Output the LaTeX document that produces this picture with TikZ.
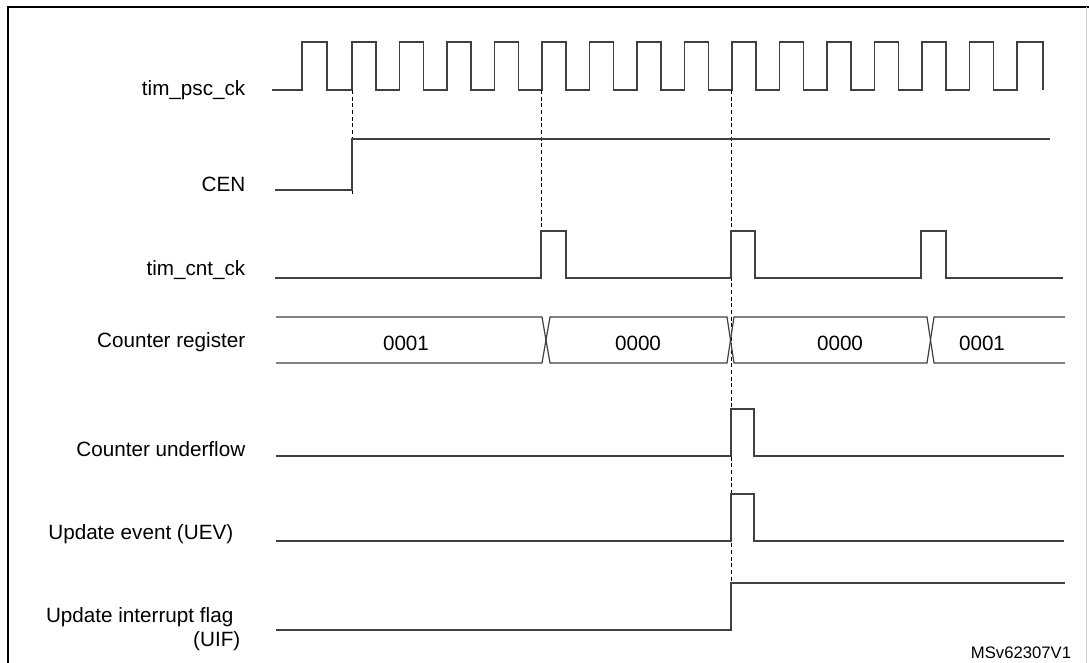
\documentclass[tikz,border=0pt]{standalone}
\usepackage{fontspec}
\setmainfont{Liberation Sans}
\begin{document}
\begin{tikzpicture}[x=0.75pt,y=-0.75pt,
  wave/.style={draw=black!75,line width=0.9pt},
  guide/.style={draw=black,line width=0.5pt,dash pattern=on 3pt off 2pt},
  lbl/.style={anchor=east,font=\fontsize{15.5}{18}\selectfont,align=right},
  val/.style={font=\fontsize{15.5}{18}\selectfont}]
\useasboundingbox (0,0) rectangle (1089,663);
\fill[white] (0,0) rectangle (1089,663);
\draw[line width=1.3pt] (8,663) -- (8,7) -- (1089,7);
\draw[black!20,line width=0.5pt] (1086,7) -- (1086,663);
% labels
\node[lbl] (l1) at (250,90) {tim\_psc\_ck};
\node[lbl] (l2) at (250,184) {CEN};
\node[lbl] (l3) at (250,270) {tim\_cnt\_ck};
\node[lbl] (l4) at (250,342) {Counter register};
\node[lbl] (l5) at (250,449) {Counter underflow};
\node[lbl] (l6) at (238,534) {Update event (UEV)};
\node[lbl] (l7) at (238,617) {Update interrupt flag};
\node[lbl] (l7b) at (245,641) {(UIF)};
\node[val,font=\fontsize{12.5}{14}\selectfont] (id) at (1021,653) {MSv62307V1};
% clock
\draw[wave] (272,90) -- (302,90) -- (302,42) -- (327,42) -- (327,90) -- (352,90)
 \foreach \k in {0,...,13} { -- ({352+47.5*\k},42) -- ({376+47.5*\k},42) -- ({376+47.5*\k},90) -- ({352+47.5*(\k+1)},90) }
 -- (1017,42) -- (1043,42) -- (1043,90);
% guides
\draw[guide] (352,90) -- (352,195);
\draw[guide] (541,90) -- (541,278);
\draw[guide] (731,90) -- (731,630);
% CEN
\draw[wave] (275,190) -- (352,190) -- (352,139) -- (1050,139);
% tim_cnt_ck
\draw[wave] (275,278) -- (541,278) -- (541,231) -- (566,231) -- (566,278) -- (731,278) -- (731,231) -- (755,231) -- (755,278) -- (921,278) -- (921,231) -- (946,231) -- (946,278) -- (1063,278);
% counter register
\draw[wave] (276,317) -- (542,317) -- (550,363) -- (727,363) -- (734,317) -- (927,317) -- (934,363) -- (1065,363);
\draw[wave] (276,363) -- (542,363) -- (550,317) -- (727,317) -- (734,363) -- (927,363) -- (934,317) -- (1065,317);
\node[val] (v1) at (406,343) {0001};
\node[val] (v2) at (638,343) {0000};
\node[val] (v3) at (840,343) {0000};
\node[val] (v4) at (982,343) {0001};
% counter underflow
\draw[wave] (276,456) -- (731,456) -- (731,409) -- (754,409) -- (754,456) -- (1064,456);
% UEV
\draw[wave] (276,541) -- (731,541) -- (731,494) -- (754,494) -- (754,541) -- (1064,541);
% UIF
\draw[wave] (276,630) -- (731,630) -- (731,583) -- (1065,583);
\end{tikzpicture}
\end{document}
